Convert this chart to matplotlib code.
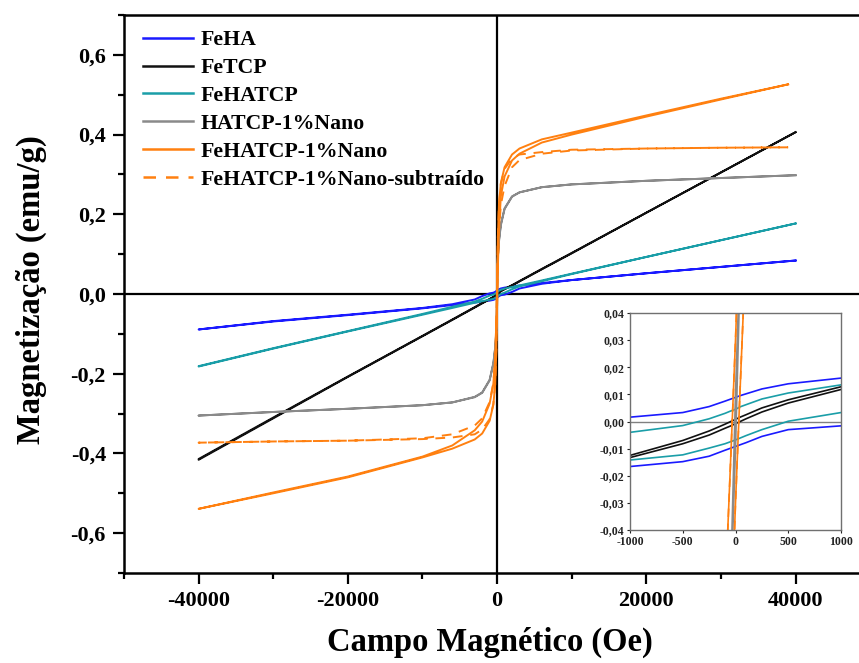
import matplotlib
matplotlib.use("Agg")
import matplotlib.pyplot as plt
from matplotlib.ticker import MultipleLocator, FuncFormatter

plt.rcParams["font.family"] = ["Liberation Serif", "DejaVu Serif"]
plt.rcParams["font.weight"] = "bold"

# Applied field (Oe), listed from +H to -H; the descending branch follows this order,
# the ascending branch values are listed at the same fields.
FIELD = [40000, 30000, 20000, 10000, 6000, 3000, 2000, 1000, 500, 250, 100, 50, 0,
         -50, -100, -250, -500, -1000, -2000, -3000, -6000, -10000, -20000, -30000, -40000]
FIELD_NANO = [39000, 30000, 20000, 10000, 6000, 3000, 2000, 1000, 500, 250, 100, 50, 0,
              -50, -100, -250, -500, -1000, -2000, -3000, -6000, -10000, -20000, -30000, -40000]

# Magnetization (emu/g)
FEHA_DESC = [0.084, 0.068, 0.052, 0.035, 0.0276, 0.0213, 0.0187, 0.0160, 0.0139, 0.0120, 0.0102, 0.0096, 0.0089,
             0.0082, 0.0075, 0.0055, 0.0033, 0.0016, -0.0052, -0.0138, -0.0256, -0.035, -0.052, -0.068, -0.089]
FEHA_ASC = [0.084, 0.068, 0.052, 0.035, 0.0256, 0.0138, 0.0052, -0.0016, -0.0030, -0.0055, -0.0078, -0.0085, -0.0092,
            -0.0099, -0.0106, -0.0128, -0.0148, -0.0166, -0.0190, -0.0215, -0.0278, -0.036, -0.053, -0.069, -0.089]

FETCP_DESC = [0.406, 0.305, 0.204, 0.103, 0.063, 0.0325, 0.0222, 0.0128, 0.0080, 0.0050, 0.0025, 0.0017, 0.0008,
              -0.0001, -0.0010, -0.0035, -0.0070, -0.0125, -0.0225, -0.0330, -0.0640, -0.105, -0.207, -0.310, -0.414]
FETCP_ASC = [0.406, 0.305, 0.204, 0.102, 0.062, 0.0315, 0.0212, 0.0118, 0.0068, 0.0035, 0.0010, 0.0001, -0.0008,
             -0.0017, -0.0025, -0.0050, -0.0082, -0.0133, -0.0235, -0.0340, -0.0650, -0.106, -0.208, -0.312, -0.416]

FEHATCP_DESC = [0.177, 0.135, 0.093, 0.051, 0.034, 0.0215, 0.0175, 0.0135, 0.0105, 0.0083, 0.0062, 0.0055, 0.0045,
                0.0038, 0.0030, 0.0010, -0.0015, -0.0040, -0.0120, -0.0190, -0.0320, -0.050, -0.093, -0.136, -0.181]
FEHATCP_ASC = [0.177, 0.135, 0.093, 0.050, 0.032, 0.0190, 0.0120, 0.0033, 0.0001, -0.0030, -0.0052, -0.0060, -0.0068,
               -0.0075, -0.0082, -0.0098, -0.0123, -0.0142, -0.0180, -0.0220, -0.0350, -0.052, -0.094, -0.137, -0.182]

HATCP_NANO_DESC = [0.298, 0.291, 0.284, 0.275, 0.268, 0.255, 0.245, 0.215, 0.175, 0.135, 0.095, 0.070, 0.010,
                   -0.065, -0.092, -0.133, -0.173, -0.215, -0.247, -0.258, -0.272, -0.279, -0.288, -0.296, -0.305]
HATCP_NANO_ASC = [0.298, 0.291, 0.284, 0.275, 0.268, 0.255, 0.244, 0.213, 0.172, 0.131, 0.091, 0.065, -0.010,
                  -0.070, -0.095, -0.135, -0.175, -0.217, -0.248, -0.259, -0.272, -0.279, -0.288, -0.296, -0.305]

FEHATCP_NANO_DESC = [0.526, 0.490, 0.448, 0.405, 0.388, 0.365, 0.350, 0.318, 0.278, 0.225, 0.140, 0.085, 0.030,
                     -0.018, -0.065, -0.160, -0.225, -0.275, -0.320, -0.342, -0.380, -0.408, -0.458, -0.498, -0.539]
FEHATCP_NANO_ASC = [0.526, 0.488, 0.445, 0.400, 0.380, 0.352, 0.335, 0.295, 0.245, 0.160, 0.065, 0.018, -0.030,
                    -0.085, -0.140, -0.225, -0.278, -0.318, -0.350, -0.365, -0.388, -0.410, -0.460, -0.500, -0.539]

FEHATCP_NANO_SUB_DESC = [0.368, 0.367, 0.365, 0.362, 0.356, 0.350, 0.340, 0.314, 0.276, 0.224, 0.140, 0.085, 0.030,
                         -0.018, -0.065, -0.159, -0.223, -0.271, -0.312, -0.330, -0.352, -0.362, -0.368, -0.370, -0.373]
FEHATCP_NANO_SUB_ASC = [0.368, 0.367, 0.365, 0.360, 0.352, 0.336, 0.318, 0.271, 0.223, 0.159, 0.065, 0.018, -0.030,
                        -0.085, -0.140, -0.224, -0.276, -0.314, -0.340, -0.352, -0.360, -0.364, -0.368, -0.370, -0.373]

LABELS = ["FeHA", "FeTCP", "FeHATCP", "HATCP-1%Nano", "FeHATCP-1%Nano", "FeHATCP-1%Nano-subtraído"]

series = [
    (FIELD, FEHA_DESC, FEHA_ASC, dict(color="#1a1aff", ls="-")),
    (FIELD, FETCP_DESC, FETCP_ASC, dict(color="#111111", ls="-")),
    (FIELD, FEHATCP_DESC, FEHATCP_ASC, dict(color="#1a9ea8", ls="-")),
    (FIELD, HATCP_NANO_DESC, HATCP_NANO_ASC, dict(color="#8a8a8a", ls="-")),
    (FIELD_NANO, FEHATCP_NANO_DESC, FEHATCP_NANO_ASC, dict(color="#ff8010", ls="-")),
    (FIELD_NANO, FEHATCP_NANO_SUB_DESC, FEHATCP_NANO_SUB_ASC, dict(color="#ff8010", ls=(0, (5, 4)))),
]


def loop(field, desc, asc):
    h = list(field) + list(field)[::-1]
    m = list(desc) + list(asc)[::-1]
    return h, m


def comma_fmt(decimals):
    def f(v, pos):
        if abs(v) < 1e-12:
            v = 0.0
        return f"{v:.{decimals}f}".replace(".", ",")
    return FuncFormatter(f)


W, H = 859, 663
fig = plt.figure(figsize=(W / 100, H / 100), dpi=100)

ax = fig.add_axes([124 / W, 1 - 573 / H, 735 / W, 558 / H])
ax.set_xlim(-50000, 48500)
ax.set_ylim(-0.7, 0.7)

ax.axhline(0, color="black", lw=1.6, zorder=1)
ax.axvline(0, color="black", lw=1.6, zorder=1)

for (field, desc, asc, style), label in zip(series, LABELS):
    h, m = loop(field, desc, asc)
    ax.plot(h, m, color=style["color"], linestyle=style["ls"], lw=1.4, label=label, zorder=2)

for side in ("top", "left", "bottom"):
    ax.spines[side].set_linewidth(1.8)
ax.spines["right"].set_visible(False)

ax.xaxis.set_major_locator(MultipleLocator(20000))
ax.xaxis.set_minor_locator(MultipleLocator(10000))
ax.yaxis.set_major_locator(MultipleLocator(0.2))
ax.yaxis.set_minor_locator(MultipleLocator(0.1))
ax.xaxis.set_major_formatter(FuncFormatter(lambda v, p: f"{int(round(v))}"))
ax.yaxis.set_major_formatter(comma_fmt(1))
ax.tick_params(which="major", direction="out", length=8, width=1.6, labelsize=16, pad=5)
ax.tick_params(which="minor", direction="out", length=4.5, width=1.6)
ax.tick_params(top=False, right=False, which="both")
for lab in ax.get_xticklabels() + ax.get_yticklabels():
    lab.set_fontweight("bold")

ax.set_xlabel("Campo Magnético (Oe)", fontsize=23.5, fontweight="bold")
ax.xaxis.set_label_coords(0.498, -0.097)
ax.set_ylabel("Magnetização (emu/g)", fontsize=23.5, fontweight="bold")
ax.yaxis.set_label_coords(-0.105, 0.507)

leg = ax.legend(loc="upper left", bbox_to_anchor=(143 / W, 1 - 30 / H), bbox_transform=fig.transFigure,
                frameon=False, fontsize=15.7, handlelength=2.3, handletextpad=0.33,
                labelspacing=0.35, borderpad=0, borderaxespad=0)
for t in leg.get_texts():
    t.set_fontweight("bold")
for hnd in leg.get_lines():
    hnd.set_linewidth(1.8)

# Zoomed view of the low-field region
axin = fig.add_axes([630 / W, 1 - 530 / H, 211 / W, 217 / H])
axin.set_xlim(-1000, 1000)
axin.set_ylim(-0.04, 0.04)
axin.axhline(0, color="#808080", lw=1.0, zorder=1)
for field, desc, asc, style in series:
    h, m = loop(field, desc, asc)
    axin.plot(h, m, color=style["color"], linestyle=style["ls"], lw=1.2, zorder=2)
axin.xaxis.set_major_locator(MultipleLocator(500))
axin.yaxis.set_major_locator(MultipleLocator(0.01))
axin.xaxis.set_major_formatter(FuncFormatter(lambda v, p: f"{int(round(v))}"))
axin.yaxis.set_major_formatter(comma_fmt(2))
axin.tick_params(direction="out", length=2.5, width=0.8, labelsize=8.5, pad=1.5, colors="#222222")
for lab in axin.get_xticklabels() + axin.get_yticklabels():
    lab.set_fontweight("bold")
for sp in axin.spines.values():
    sp.set_color("#707070")
    sp.set_linewidth(1.0)

fig.savefig("out.png", dpi=100)
